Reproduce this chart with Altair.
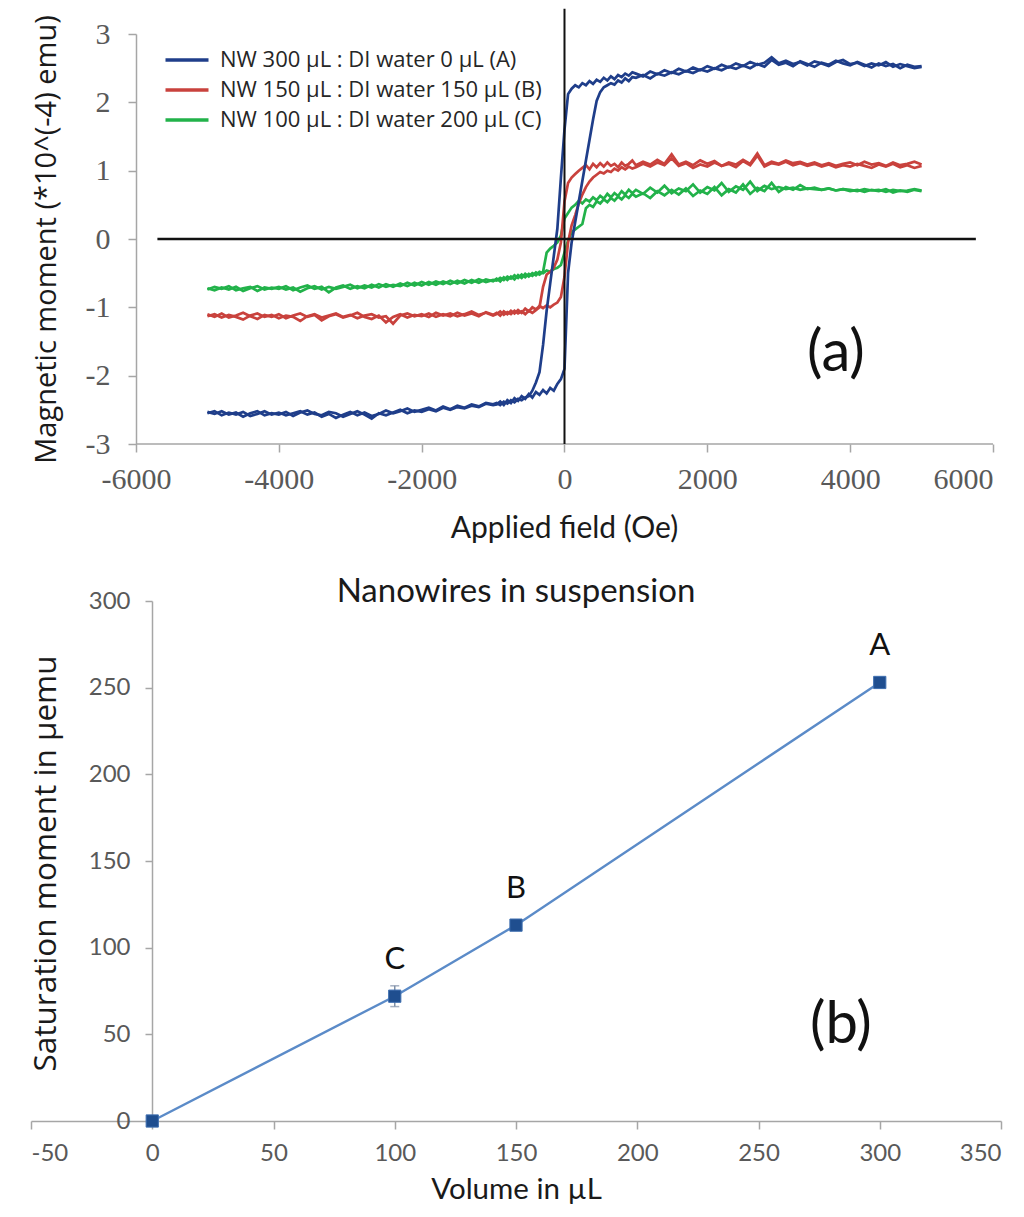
import altair as alt
import pandas as pd

# ---------------- Panel (a): hysteresis loops ----------------
FIELD = [
    -5000, -4900, -4800, -4700, -4600, -4500, -4400, -4300, -4200, -4100,
    -4000, -3900, -3800, -3700, -3600, -3500, -3400, -3300, -3200, -3100,
    -3000, -2900, -2800, -2700, -2600, -2500, -2400, -2300, -2200, -2100,
    -2000, -1900, -1800, -1700, -1600, -1500, -1400, -1300, -1200, -1100, -1000,
    -950, -900, -850, -800, -750, -700, -650, -600, -550, -500,
    -450, -400, -350, -300, -250, -200, -150, -100, -50, 0,
    50, 100, 150, 200, 250, 300, 350, 400, 450, 500,
    550, 600, 650, 700, 750, 800, 850, 900, 950,
    1000, 1100, 1200, 1300, 1400, 1500, 1600, 1700, 1800, 1900,
    2000, 2100, 2200, 2300, 2400, 2500, 2600, 2700, 2800, 2900,
    3000, 3100, 3200, 3300, 3400, 3500, 3600, 3700, 3800, 3900,
    4000, 4100, 4200, 4300, 4400, 4500, 4600, 4700, 4800, 4900, 5000,
]

# (A) ascending branch
A_UP = [
    -2.53, -2.56, -2.52, -2.57, -2.54, -2.60, -2.55, -2.52, -2.58, -2.55,
    -2.57, -2.53, -2.59, -2.54, -2.51, -2.56, -2.58, -2.53, -2.55, -2.60,
    -2.56, -2.52, -2.57, -2.63, -2.55, -2.58, -2.54, -2.50, -2.55, -2.51,
    -2.53, -2.49, -2.52, -2.47, -2.50, -2.46, -2.48, -2.44, -2.46, -2.41, -2.43,
    -2.42, -2.38, -2.43, -2.36, -2.40, -2.33, -2.37, -2.30, -2.34, -2.27,
    -2.32, -2.24, -2.28, -2.21, -2.26, -2.18, -2.22, -2.12, -2.05, -1.90,
    -0.50, -0.05, 0.25, 0.55, 0.85, 1.15, 1.45, 1.75, 2.02, 2.15,
    2.22, 2.25, 2.28, 2.26, 2.32, 2.29, 2.35, 2.31, 2.37,
    2.36, 2.40, 2.35, 2.42, 2.39, 2.44, 2.41, 2.46, 2.43, 2.48,
    2.45, 2.50, 2.47, 2.52, 2.49, 2.54, 2.50, 2.56, 2.52, 2.62,
    2.55, 2.58, 2.53, 2.60, 2.56, 2.52, 2.58, 2.55, 2.61, 2.57,
    2.54, 2.59, 2.55, 2.51, 2.57, 2.53, 2.56, 2.50, 2.55, 2.52, 2.53,
]
# (A) descending branch (listed in increasing field order)
A_DN = [
    -2.55, -2.52, -2.58, -2.54, -2.57, -2.53, -2.59, -2.56, -2.52, -2.57,
    -2.54, -2.58, -2.55, -2.52, -2.57, -2.54, -2.60, -2.56, -2.62, -2.57,
    -2.53, -2.58, -2.54, -2.59, -2.56, -2.51, -2.55, -2.52, -2.48, -2.53,
    -2.50, -2.47, -2.51, -2.45, -2.49, -2.44, -2.47, -2.42, -2.45, -2.40, -2.42,
    -2.40, -2.43, -2.38, -2.41, -2.36, -2.39, -2.34, -2.36, -2.32, -2.30,
    -2.22, -2.10, -1.95, -1.55, -1.05, -0.65, -0.25, 0.15, 0.90, 1.60,
    2.12, 2.20, 2.25, 2.22, 2.28, 2.25, 2.31, 2.27, 2.33, 2.30,
    2.36, 2.32, 2.38, 2.34, 2.40, 2.37, 2.42, 2.39, 2.44,
    2.42, 2.38, 2.45, 2.41, 2.47, 2.43, 2.49, 2.45, 2.51, 2.47,
    2.53, 2.49, 2.55, 2.51, 2.57, 2.53, 2.59, 2.55, 2.58, 2.66,
    2.57, 2.61, 2.56, 2.59, 2.54, 2.60, 2.57, 2.53, 2.59, 2.62,
    2.56, 2.58, 2.53, 2.57, 2.54, 2.59, 2.52, 2.56, 2.53, 2.50, 2.52,
]
# (B)
B_UP = [
    -1.10, -1.14, -1.09, -1.15, -1.12, -1.08, -1.13, -1.17, -1.11, -1.14,
    -1.10, -1.16, -1.12, -1.09, -1.14, -1.11, -1.19, -1.13, -1.10, -1.15,
    -1.12, -1.08, -1.14, -1.17, -1.12, -1.22, -1.14, -1.10, -1.15, -1.11,
    -1.13, -1.09, -1.14, -1.10, -1.13, -1.08, -1.12, -1.09, -1.13, -1.07, -1.11,
    -1.08, -1.12, -1.06, -1.10, -1.05, -1.09, -1.04, -1.08, -1.02, -1.06,
    -1.00, -1.03, -0.98, -1.01, -0.97, -1.00, -0.96, -0.93, -0.85, -0.55,
    -0.05, 0.20, 0.35, 0.52, 0.65, 0.76, 0.84, 0.90, 0.94, 0.98,
    0.96, 1.00, 0.98, 1.03, 1.00, 1.05, 1.02, 1.06, 1.03,
    1.05, 1.10, 1.06, 1.12, 1.08, 1.18, 1.07, 1.11, 1.04, 1.09,
    1.06, 1.12, 1.07, 1.10, 1.05, 1.14, 1.08, 1.22, 1.06, 1.11,
    1.09, 1.13, 1.08, 1.11, 1.07, 1.10, 1.06, 1.09, 1.05, 1.08,
    1.06, 1.10, 1.07, 1.04, 1.09, 1.06, 1.10, 1.05, 1.08, 1.04, 1.07,
]
B_DN = [
    -1.13, -1.10, -1.15, -1.11, -1.14, -1.18, -1.12, -1.09, -1.14, -1.11,
    -1.16, -1.12, -1.14, -1.20, -1.13, -1.10, -1.15, -1.12, -1.09, -1.14,
    -1.11, -1.16, -1.12, -1.10, -1.15, -1.13, -1.24, -1.12, -1.09, -1.13,
    -1.10, -1.14, -1.08, -1.12, -1.09, -1.13, -1.10, -1.06, -1.11, -1.08, -1.12,
    -1.10, -1.06, -1.11, -1.07, -1.10, -1.05, -1.09, -1.06, -1.10, -1.05,
    -1.08, -1.04, -1.00, -0.70, -0.52, -0.48, -0.42, -0.30, -0.05, 0.55,
    0.82, 0.90, 0.95, 1.00, 1.04, 1.08, 1.02, 1.10, 1.05, 1.11,
    1.06, 1.12, 1.07, 1.10, 1.05, 1.12, 1.07, 1.10, 1.15,
    1.08, 1.13, 1.09, 1.16, 1.10, 1.24, 1.09, 1.13, 1.08, 1.15,
    1.10, 1.14, 1.07, 1.12, 1.09, 1.16, 1.10, 1.25, 1.08, 1.13,
    1.10, 1.15, 1.11, 1.13, 1.09, 1.12, 1.08, 1.11, 1.07, 1.10,
    1.12, 1.08, 1.13, 1.09, 1.11, 1.07, 1.12, 1.08, 1.10, 1.13, 1.09,
]
# (C)
C_UP = [
    -0.72, -0.75, -0.71, -0.74, -0.70, -0.76, -0.72, -0.69, -0.74, -0.71,
    -0.73, -0.69, -0.75, -0.71, -0.68, -0.73, -0.70, -0.78, -0.71, -0.68,
    -0.73, -0.69, -0.72, -0.67, -0.71, -0.66, -0.70, -0.65, -0.69, -0.64,
    -0.68, -0.63, -0.67, -0.62, -0.66, -0.61, -0.65, -0.60, -0.64, -0.59, -0.62,
    -0.58, -0.62, -0.56, -0.60, -0.55, -0.59, -0.53, -0.57, -0.51, -0.55,
    -0.50, -0.53, -0.48, -0.50, -0.46, -0.48, -0.44, -0.42, -0.38, -0.20,
    -0.02, 0.10, 0.14, 0.18, 0.22, 0.45, 0.50, 0.47, 0.55, 0.52,
    0.58, 0.54, 0.60, 0.56, 0.62, 0.58, 0.64, 0.60, 0.66,
    0.62, 0.67, 0.60, 0.70, 0.64, 0.72, 0.65, 0.74, 0.63, 0.71,
    0.66, 0.76, 0.64, 0.73, 0.68, 0.80, 0.66, 0.75, 0.70, 0.82,
    0.69, 0.76, 0.72, 0.79, 0.73, 0.75, 0.72, 0.74, 0.71, 0.73,
    0.70, 0.72, 0.69, 0.72, 0.70, 0.73, 0.68, 0.71, 0.69, 0.72, 0.70,
]
C_DN = [
    -0.74, -0.70, -0.73, -0.69, -0.75, -0.72, -0.70, -0.76, -0.71, -0.73,
    -0.70, -0.74, -0.71, -0.77, -0.72, -0.69, -0.74, -0.70, -0.73, -0.70,
    -0.67, -0.72, -0.68, -0.71, -0.66, -0.70, -0.67, -0.69, -0.64, -0.68,
    -0.63, -0.67, -0.62, -0.66, -0.61, -0.65, -0.60, -0.64, -0.59, -0.63, -0.60,
    -0.61, -0.57, -0.60, -0.55, -0.58, -0.53, -0.57, -0.52, -0.56, -0.51,
    -0.54, -0.49, -0.52, -0.48, -0.20, -0.14, -0.10, -0.05, 0.05, 0.30,
    0.38, 0.46, 0.50, 0.56, 0.52, 0.58, 0.55, 0.61, 0.57, 0.63,
    0.59, 0.66, 0.61, 0.67, 0.63, 0.70, 0.65, 0.72, 0.67,
    0.72, 0.66, 0.75, 0.68, 0.78, 0.67, 0.74, 0.70, 0.80, 0.68,
    0.76, 0.71, 0.82, 0.69, 0.77, 0.72, 0.84, 0.70, 0.78, 0.73,
    0.76, 0.73, 0.75, 0.72, 0.74, 0.73, 0.72, 0.74, 0.71, 0.73,
    0.72, 0.70, 0.73, 0.71, 0.72, 0.69, 0.72, 0.70, 0.71, 0.73, 0.71,
]

SERIES = [
    "NW 300 µL : DI water 0 µL (A)",
    "NW 150 µL : DI water 150 µL (B)",
    "NW 100 µL : DI water 200 µL (C)",
]
COLORS = ["#1f3e8a", "#c9423d", "#22b24a"]

X_TICKS_A = [-6000, -4000, -2000, 0, 2000, 4000, 6000]
Y_TICKS_A = [-3, -2, -1, 0, 1, 2, 3]

# reference cross lines drawn in the original figure (data units)
H_LINE = {"x": [-5700], "x2": [5760], "y": [0]}
V_LINE = {"x": [0], "y": [-3], "y2": [3.37]}
X_FRAME = {"x": [-6000], "x2": [6000], "y": [-3]}
PANEL_A_TAG = {"x": [3800], "y": [-1.68], "t": ["(a)"]}

# ---------------- Panel (b): saturation moment ----------------
VOLUME = [0, 100, 150, 300]
SAT_MOMENT = [0, 72, 113, 253]
SAT_ERR = [1, 6, 2, 3]
POINT_LABEL = ["", "C", "B", "A"]
X_TICKS_B = [-50, 0, 50, 100, 150, 200, 250, 300, 350]
Y_TICKS_B = [0, 50, 100, 150, 200, 250, 300]
PANEL_B_TAG = {"x": [284], "y": [55], "t": ["(b)"]}

NARROW = "Lato"
SANS = "Open Sans"
SERIF = "Liberation Serif"
GRAY = "#595959"
AXISGRAY = "#a6a6a6"
PLAIN = "'' + datum.value"  # plain integer labels with ASCII hyphen

# ---------- build panel (a) ----------
rows = []
order = [2, 1, 0]  # draw green, red, then blue on top
ups = [A_UP, B_UP, C_UP]
dns = [A_DN, B_DN, C_DN]
for k in order:
    for f, m in zip(FIELD, ups[k]):
        rows.append({"field": f, "moment": m, "series": SERIES[k], "branch": f"{k}-up"})
    for f, m in zip(FIELD, dns[k]):
        rows.append({"field": f, "moment": m, "series": SERIES[k], "branch": f"{k}-dn"})
df_a = pd.DataFrame(rows)

W_A, H_A = 962, 410
xs_a = alt.Scale(domain=[-7470, 6000], nice=False, zero=False)
ys_a = alt.Scale(domain=[-3, 3], nice=False, zero=False)

x_axis_a = alt.Axis(
    values=X_TICKS_A, labelExpr=PLAIN, grid=False, domain=False, ticks=True,
    tickSize=8, tickColor=AXISGRAY, tickWidth=1.5, labelFont=SERIF,
    labelFontSize=30, labelColor=GRAY, labelPadding=12,
    title="Applied field (Oe)", titleFont=NARROW, titleFontSize=30,
    titleFontWeight="normal", titleColor="#1a1a1a", titleX=533,
    titleAlign="center", titlePadding=19,
)
y_axis_a = alt.Axis(
    values=Y_TICKS_A, labelExpr=PLAIN, grid=False, offset=-105,
    domainColor=AXISGRAY, domainWidth=1.5, tickSize=8, tickColor=AXISGRAY,
    tickWidth=1.5, labelFont=SERIF, labelFontSize=30, labelColor=GRAY,
    labelPadding=18, title="Magnetic moment (*10^(-4) emu)", titleFont=SANS,
    titleFontSize=29, titleFontWeight="normal", titleColor="#1a1a1a",
    titleX=-90, titleY=205, titleAngle=270, titleAlign="center",
    titleBaseline="middle",
)

lines_a = alt.Chart(df_a).mark_line(strokeWidth=2.7).encode(
    x=alt.X("field:Q", scale=xs_a, axis=x_axis_a),
    y=alt.Y("moment:Q", scale=ys_a, axis=y_axis_a),
    color=alt.Color(
        "series:N",
        scale=alt.Scale(domain=SERIES, range=COLORS),
        legend=alt.Legend(
            title=None, orient="none", legendX=145, legendY=15,
            symbolType="M-4.3,0H4.3", symbolSize=100, symbolStrokeWidth=3.5,
            labelFont=SANS, labelFontSize=22, labelColor="#262626",
            labelOffset=22, rowPadding=8, padding=0, labelLimit=600,
        ),
    ),
    detail="branch:N",
)

frame_a = alt.Chart(pd.DataFrame(X_FRAME)).mark_rule(color=AXISGRAY, strokeWidth=1.5).encode(
    x=alt.X("x:Q", scale=xs_a), x2="x2:Q", y=alt.Y("y:Q", scale=ys_a))
hline_a = alt.Chart(pd.DataFrame(H_LINE)).mark_rule(color="#111111", strokeWidth=2.4).encode(
    x=alt.X("x:Q", scale=xs_a), x2="x2:Q", y=alt.Y("y:Q", scale=ys_a))
vline_a = alt.Chart(pd.DataFrame(V_LINE)).mark_rule(color="#111111", strokeWidth=2).encode(
    x=alt.X("x:Q", scale=xs_a), y=alt.Y("y:Q", scale=ys_a), y2="y2:Q")
tag_a = alt.Chart(pd.DataFrame(PANEL_A_TAG)).mark_text(
    font="Lato", fontSize=58, color="#111111", align="center", baseline="middle"
).encode(x=alt.X("x:Q", scale=xs_a), y=alt.Y("y:Q", scale=ys_a), text="t:N")

panel_a = alt.layer(frame_a, lines_a, hline_a, vline_a, tag_a).properties(width=W_A, height=H_A)

# ---------- build panel (b) ----------
df_b = pd.DataFrame({
    "vol": VOLUME, "sat": SAT_MOMENT,
    "lo": [s - e for s, e in zip(SAT_MOMENT, SAT_ERR)],
    "hi": [s + e for s, e in zip(SAT_MOMENT, SAT_ERR)],
    "lab": POINT_LABEL,
})
W_B, H_B = 970, 520
xs_b = alt.Scale(domain=[-50, 350], nice=False, zero=False)
ys_b = alt.Scale(domain=[0, 300], nice=False, zero=False)

x_axis_b = alt.Axis(
    values=X_TICKS_B, labelExpr=PLAIN, grid=False, domainColor=AXISGRAY,
    domainWidth=1.5, tickSize=8, tickColor=AXISGRAY, tickWidth=1.5,
    labelFont=NARROW, labelFontSize=24, labelColor=GRAY, labelPadding=12,
    title="Volume in µL", titleFont=NARROW, titleFontSize=29.5,
    titleFontWeight="normal", titleColor="#1a1a1a", titlePadding=10,
)
y_axis_b = alt.Axis(
    values=Y_TICKS_B, labelExpr=PLAIN, grid=False, offset=-121,
    domainColor=AXISGRAY, domainWidth=1.5, tickSize=7, tickColor=AXISGRAY,
    tickWidth=1.5, labelFont=NARROW, labelFontSize=24, labelColor=GRAY,
    labelPadding=15, title="Saturation moment in µemu", titleFont=SANS,
    titleFontSize=31.5, titleFontWeight="normal", titleColor="#1a1a1a",
    titleX=-106, titleY=262, titleAngle=270, titleAlign="center",
    titleBaseline="middle",
)

base_b = alt.Chart(df_b)
line_b = base_b.mark_line(color="#5b8bc8", strokeWidth=2.4).encode(
    x=alt.X("vol:Q", scale=xs_b, axis=x_axis_b),
    y=alt.Y("sat:Q", scale=ys_b, axis=y_axis_b),
)
err_b = base_b.mark_rule(color="#7f8fa6", strokeWidth=1.5).encode(
    x=alt.X("vol:Q", scale=xs_b), y=alt.Y("lo:Q", scale=ys_b), y2="hi:Q")
cap_lo = base_b.mark_tick(color="#7f8fa6", orient="horizontal", size=9, thickness=1.5).encode(
    x=alt.X("vol:Q", scale=xs_b), y=alt.Y("lo:Q", scale=ys_b))
cap_hi = base_b.mark_tick(color="#7f8fa6", orient="horizontal", size=9, thickness=1.5).encode(
    x=alt.X("vol:Q", scale=xs_b), y=alt.Y("hi:Q", scale=ys_b))
pts_b = base_b.mark_square(size=150, color="#1f4e8f", opacity=1, stroke="#3f6fb0", strokeWidth=1).encode(
    x=alt.X("vol:Q", scale=xs_b), y=alt.Y("sat:Q", scale=ys_b))
lab_b = base_b.mark_text(font="Lato", fontSize=31, color="#111111", dy=-36, baseline="middle").encode(
    x=alt.X("vol:Q", scale=xs_b), y=alt.Y("sat:Q", scale=ys_b), text="lab:N")
tag_b = alt.Chart(pd.DataFrame(PANEL_B_TAG)).mark_text(
    font="Lato", fontSize=58, color="#111111", align="center", baseline="middle"
).encode(x=alt.X("x:Q", scale=xs_b), y=alt.Y("y:Q", scale=ys_b), text="t:N")

panel_b = alt.layer(line_b, err_b, cap_lo, cap_hi, pts_b, lab_b, tag_b).properties(
    width=W_B, height=H_B,
    title=alt.TitleParams("Nanowires in suspension", font=NARROW, fontSize=33,
                          fontWeight="normal", color="#1a1a1a", offset=-20, anchor="middle"),
)

chart = alt.vconcat(panel_a, panel_b, spacing=157, bounds="flush",
                    padding={"left": 29, "top": 7, "right": 4, "bottom": 4},
                    background="white").configure_view(stroke=None)

chart.save("out.html", embed_options={"renderer": "svg", "actions": False})
